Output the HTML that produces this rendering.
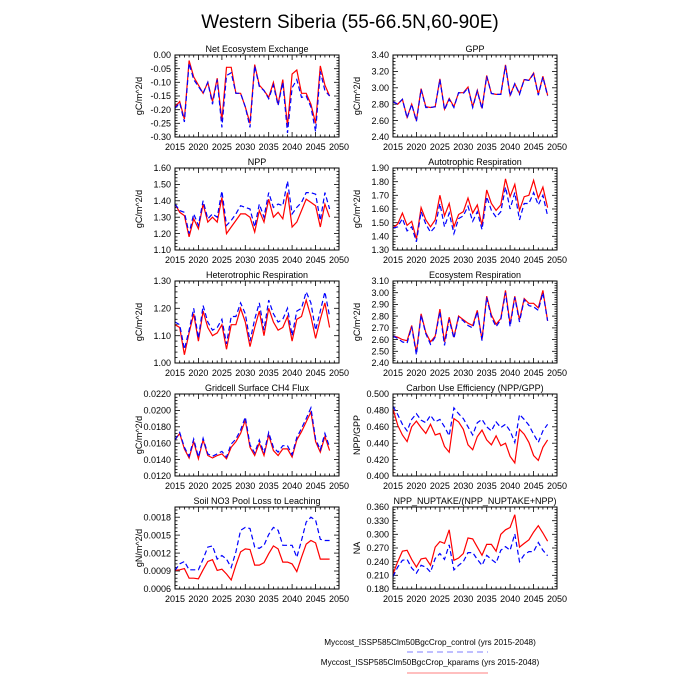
<!DOCTYPE html>
<html><head><meta charset="utf-8"><style>
html,body{margin:0;padding:0;background:#fff;}
svg{display:block;font-family:"Liberation Sans",sans-serif;}
</style></head><body>
<svg id="s" width="700" height="700" xmlns="http://www.w3.org/2000/svg">
<rect width="700" height="700" fill="#fff"/>
<text x="350" y="28" text-anchor="middle" font-size="19">Western Siberia (55-66.5N,60-90E)</text>
<text x="430" y="645" text-anchor="middle" font-size="8.2">Myccost_ISSP585Clm50BgcCrop_control (yrs 2015-2048)</text>
<line x1="407" y1="652" x2="488" y2="652" stroke="#0000ff" stroke-opacity="0.5" stroke-dasharray="6,4"/>
<text x="430" y="665" text-anchor="middle" font-size="8.2">Myccost_ISSP585Clm50BgcCrop_kparams (yrs 2015-2048)</text>
<line x1="407" y1="673" x2="488" y2="673" stroke="#ff0000" stroke-opacity="0.5"/>
</svg>
<script>
var P=[
{t:"Net Ecosystem Exchange",c:0,r:0,lo:-0.30,hi:0,st:0.05,d:2,yl:"gC/m^2/d",
R:[-0.19,-0.17,-0.235,-0.02,-0.08,-0.11,-0.14,-0.10,-0.17,-0.085,-0.24,-0.045,-0.045,-0.14,-0.14,-0.19,-0.25,-0.035,-0.11,-0.13,-0.155,-0.10,-0.18,-0.09,-0.26,-0.07,-0.055,-0.14,-0.14,-0.18,-0.25,-0.04,-0.11,-0.15],
B:[-0.195,-0.175,-0.245,-0.03,-0.09,-0.115,-0.14,-0.10,-0.18,-0.09,-0.265,-0.075,-0.065,-0.14,-0.14,-0.19,-0.265,-0.04,-0.115,-0.13,-0.16,-0.11,-0.185,-0.10,-0.285,-0.12,-0.09,-0.155,-0.15,-0.19,-0.28,-0.06,-0.13,-0.15]},
{t:"GPP",c:1,r:0,lo:2.4,hi:3.4,st:0.2,d:2,yl:"gC/m^2/d",
R:[2.83,2.80,2.86,2.64,2.80,2.60,2.99,2.77,2.76,2.77,3.11,2.74,2.87,2.77,2.94,2.94,3.01,2.77,2.97,2.75,3.15,2.93,2.92,2.92,3.28,2.91,3.05,2.93,3.10,3.09,3.18,2.92,3.14,2.91],
B:[2.83,2.80,2.86,2.63,2.80,2.59,2.98,2.76,2.76,2.77,3.10,2.73,2.86,2.76,2.94,2.93,3.00,2.76,2.96,2.74,3.14,2.93,2.92,2.92,3.27,2.90,3.05,2.92,3.10,3.09,3.17,2.91,3.13,2.90]},
{t:"NPP",c:0,r:1,lo:1.1,hi:1.6,st:0.1,d:2,yl:"gC/m^2/d",
R:[1.38,1.33,1.31,1.18,1.29,1.23,1.38,1.27,1.30,1.27,1.42,1.20,1.24,1.28,1.32,1.32,1.30,1.21,1.34,1.27,1.41,1.30,1.33,1.29,1.45,1.24,1.27,1.34,1.41,1.39,1.37,1.24,1.38,1.30],
B:[1.38,1.34,1.33,1.20,1.32,1.25,1.40,1.29,1.32,1.30,1.46,1.25,1.28,1.32,1.37,1.36,1.35,1.24,1.38,1.30,1.45,1.36,1.38,1.37,1.52,1.32,1.36,1.39,1.45,1.45,1.44,1.28,1.45,1.35]},
{t:"Autotrophic Respiration",c:1,r:1,lo:1.3,hi:1.9,st:0.1,d:2,yl:"gC/m^2/d",
R:[1.46,1.49,1.57,1.48,1.51,1.38,1.61,1.52,1.47,1.52,1.70,1.55,1.64,1.47,1.56,1.58,1.68,1.57,1.63,1.48,1.74,1.64,1.59,1.63,1.82,1.69,1.78,1.59,1.69,1.70,1.81,1.68,1.76,1.61],
B:[1.46,1.47,1.53,1.44,1.47,1.36,1.58,1.49,1.43,1.47,1.64,1.47,1.57,1.42,1.53,1.55,1.62,1.51,1.58,1.45,1.69,1.59,1.54,1.58,1.76,1.60,1.72,1.52,1.64,1.64,1.72,1.63,1.70,1.55]},
{t:"Heterotrophic Respiration",c:0,r:2,lo:1.0,hi:1.3,st:0.1,d:2,yl:"gC/m^2/d",
R:[1.14,1.13,1.03,1.11,1.18,1.08,1.19,1.13,1.10,1.11,1.14,1.05,1.14,1.14,1.20,1.15,1.06,1.13,1.19,1.10,1.20,1.15,1.12,1.13,1.17,1.08,1.16,1.17,1.23,1.17,1.09,1.16,1.22,1.13],
B:[1.15,1.14,1.05,1.12,1.20,1.09,1.21,1.15,1.12,1.13,1.16,1.07,1.17,1.17,1.22,1.18,1.08,1.16,1.22,1.12,1.23,1.18,1.15,1.16,1.20,1.10,1.19,1.20,1.26,1.22,1.12,1.19,1.26,1.17]},
{t:"Ecosystem Respiration",c:1,r:2,lo:2.4,hi:3.1,st:0.1,d:2,yl:"gC/m^2/d",
R:[2.63,2.62,2.60,2.59,2.72,2.49,2.82,2.66,2.58,2.63,2.86,2.58,2.79,2.62,2.80,2.77,2.74,2.72,2.85,2.60,2.97,2.81,2.73,2.78,3.02,2.73,2.97,2.77,2.95,2.91,2.91,2.87,3.02,2.76],
B:[2.63,2.61,2.58,2.57,2.71,2.47,2.81,2.65,2.56,2.62,2.84,2.55,2.77,2.61,2.79,2.76,2.72,2.70,2.84,2.59,2.96,2.79,2.71,2.77,3.00,2.71,2.96,2.75,2.94,2.89,2.88,2.85,3.00,2.76]},
{t:"Gridcell Surface CH4 Flux",c:0,r:3,lo:0.012,hi:0.022,st:0.002,d:4,yl:"gC/m^2/d",
R:[0.0164,0.0172,0.0153,0.0142,0.0162,0.0141,0.0164,0.0145,0.0142,0.0145,0.0147,0.0141,0.0155,0.0162,0.0172,0.0188,0.0155,0.0145,0.0160,0.0145,0.0170,0.0151,0.0145,0.0153,0.0153,0.0143,0.0164,0.0174,0.0186,0.0198,0.0162,0.0149,0.0168,0.0151],
B:[0.0164,0.0173,0.0155,0.0144,0.0165,0.0143,0.0166,0.0147,0.0144,0.0147,0.0150,0.0143,0.0159,0.0165,0.0176,0.0192,0.0158,0.0148,0.0164,0.0148,0.0173,0.0155,0.0149,0.0157,0.0157,0.0146,0.0167,0.0178,0.0190,0.0203,0.0165,0.0152,0.0172,0.0155]},
{t:"Carbon Use Efficiency (NPP/GPP)",c:1,r:3,lo:0.4,hi:0.5,st:0.02,d:3,yl:"NPP/GPP",
R:[0.482,0.462,0.450,0.442,0.460,0.467,0.459,0.452,0.463,0.450,0.452,0.436,0.429,0.470,0.466,0.457,0.438,0.432,0.448,0.456,0.444,0.438,0.449,0.437,0.440,0.424,0.416,0.457,0.451,0.441,0.425,0.419,0.435,0.444],
B:[0.485,0.475,0.463,0.455,0.469,0.476,0.468,0.465,0.474,0.466,0.469,0.460,0.449,0.483,0.476,0.470,0.460,0.450,0.465,0.469,0.460,0.455,0.466,0.459,0.463,0.455,0.441,0.475,0.469,0.462,0.451,0.441,0.455,0.463]},
{t:"Soil NO3 Pool Loss to Leaching",c:0,r:4,lo:0.0006,hi:0.00197,st:0.0003,d:4,yl:"gN/m^2/d",
R:[0.00091,0.00092,0.00094,0.00078,0.00078,0.00077,0.00092,0.00106,0.00109,0.00091,0.00093,0.00085,0.00075,0.0010,0.00122,0.00127,0.00126,0.0010,0.0010,0.00104,0.00119,0.00132,0.00127,0.00105,0.00105,0.00102,0.00089,0.00113,0.00135,0.00141,0.00137,0.0011,0.0011,0.0011],
B:[0.00091,0.00102,0.00106,0.00092,0.00092,0.00092,0.0011,0.0013,0.00132,0.0011,0.00116,0.0011,0.00096,0.00122,0.00158,0.00163,0.00161,0.0013,0.00128,0.00133,0.00151,0.00163,0.00158,0.00133,0.00133,0.00133,0.00113,0.00141,0.00172,0.0018,0.00175,0.00143,0.00141,0.00141]},
{t:"NPP_NUPTAKE/(NPP_NUPTAKE+NPP)",c:1,r:4,lo:0.18,hi:0.36,st:0.03,d:3,yl:"NA",
R:[0.213,0.240,0.263,0.265,0.245,0.228,0.246,0.248,0.232,0.272,0.284,0.280,0.310,0.243,0.248,0.258,0.292,0.290,0.272,0.254,0.278,0.278,0.263,0.300,0.310,0.315,0.343,0.272,0.280,0.288,0.305,0.319,0.303,0.285],
B:[0.207,0.228,0.243,0.245,0.226,0.215,0.232,0.228,0.217,0.247,0.258,0.245,0.277,0.222,0.232,0.240,0.260,0.260,0.245,0.232,0.254,0.245,0.237,0.265,0.273,0.265,0.301,0.240,0.255,0.262,0.262,0.282,0.265,0.253]}
];
var s=document.getElementById('s'),h='';
P.forEach(function(p){
 var x0=p.c?393:175,w=164,y0=55+p.r*113,H=82;
 function X(yr){return x0+(yr-2015)/35*w;}
 function Y(v){return y0+H-(v-p.lo)/(p.hi-p.lo)*H;}
 h+='<text x="'+(x0+w/2)+'" y="'+(y0-3)+'" text-anchor="middle" font-size="9">'+p.t+'</text>';
 for(var yr=2015;yr<=2050;yr++){
  var L=(yr%5==0)?5:2.5,xx=X(yr).toFixed(1);
  h+='<line x1="'+xx+'" y1="'+(y0+H)+'" x2="'+xx+'" y2="'+(y0+H-L)+'" stroke="#000" stroke-width="0.8"/>';
  h+='<line x1="'+xx+'" y1="'+y0+'" x2="'+xx+'" y2="'+(y0+L)+'" stroke="#000" stroke-width="0.8"/>';
  if(yr%5==0)h+='<text x="'+xx+'" y="'+(y0+H+13)+'" text-anchor="middle" font-size="9">'+yr+'</text>';
 }
 var n=Math.round((p.hi-p.lo)/(p.st/5)+0.01);
 for(var i=0;i<=n;i++){
  var v=p.lo+i*p.st/5; if(v>p.hi+1e-9)break;
  var yy=Y(v).toFixed(1),maj=(i%5==0),L=maj?5:2.5;
  h+='<line x1="'+x0+'" y1="'+yy+'" x2="'+(x0+L)+'" y2="'+yy+'" stroke="#000" stroke-width="0.8"/>';
  h+='<line x1="'+(x0+w)+'" y1="'+yy+'" x2="'+(x0+w-L)+'" y2="'+yy+'" stroke="#000" stroke-width="0.8"/>';
  if(maj)h+='<text x="'+(x0-4)+'" y="'+(+yy+3.2)+'" text-anchor="end" font-size="9">'+v.toFixed(p.d)+'</text>';
 }
 h+='<text transform="translate('+(x0-33)+','+(y0+H/2)+') rotate(-90)" text-anchor="middle" font-size="9">'+p.yl+'</text>';
 function pl(a){return a.map(function(v,i){return X(2015+i).toFixed(1)+','+Y(v).toFixed(1);}).join(' ');}
 h+='<polyline points="'+pl(p.R)+'" fill="none" stroke="#ff0000" stroke-width="1.2"/>';
 h+='<polyline points="'+pl(p.B)+'" fill="none" stroke="#0000ff" stroke-width="1.2" stroke-dasharray="5,3"/>';
 h+='<rect x="'+x0+'" y="'+y0+'" width="'+w+'" height="'+H+'" fill="none" stroke="#000" stroke-width="1"/>';
});
s.insertAdjacentHTML('beforeend',h);
</script>
</body></html>
